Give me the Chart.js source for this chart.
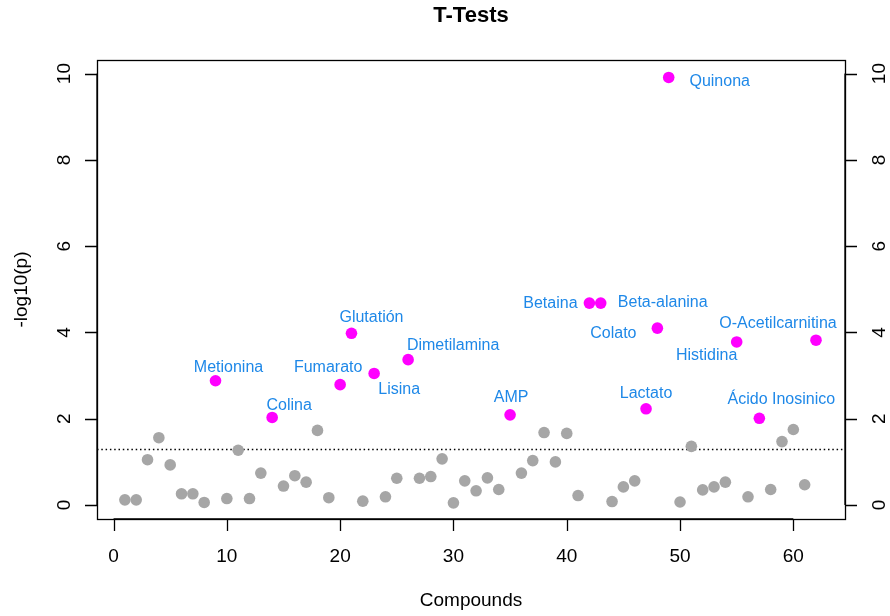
<!DOCTYPE html>
<html>
<head>
<meta charset="utf-8">
<title>T-Tests</title>
<script src="https://cdn.jsdelivr.net/npm/chart.js@4.4.1/dist/chart.umd.min.js"></script>
<style>
  html, body { margin: 0; padding: 0; background: #ffffff; }
  #wrap { width: 890px; height: 616px; }
</style>
</head>
<body>
<div id="wrap"><canvas id="chart" width="890" height="616"></canvas></div>
<script>
// Compound index along the x axis
const compoundIndex = [
  1, 2, 3, 4, 5, 6, 7, 8, 9, 10,
  11, 12, 13, 14, 15, 16, 17, 18, 19, 20,
  21, 22, 23, 24, 25, 26, 27, 28, 29, 30,
  31, 32, 33, 34, 35, 36, 37, 38, 39, 40,
  41, 42, 43, 44, 45, 46, 47, 48, 49, 50,
  51, 52, 53, 54, 55, 56, 57, 58, 59, 60,
  61, 62
];

// -log10(p) for each compound
const negLog10P = [
  0.12, 0.12, 1.05, 1.56, 0.93, 0.26, 0.26, 0.06, 2.88, 0.15,
  1.27, 0.15, 0.74, 2.03, 0.44, 0.68, 0.53, 1.73, 0.17, 2.79,
  3.98, 0.09, 3.05, 0.19, 0.62, 3.37, 0.62, 0.66, 1.07, 0.05,
  0.56, 0.33, 0.63, 0.36, 2.09, 0.74, 1.03, 1.68, 1.00, 1.66,
  0.22, 4.68, 4.68, 0.08, 0.42, 0.56, 2.23, 4.10, 9.91, 0.07,
  1.36, 0.35, 0.42, 0.53, 3.78, 0.19, 2.01, 0.36, 1.47, 1.75,
  0.47, 3.82
];

// Names of the significant compounds (empty = not significant)
const compoundNames = [
  "", "", "", "", "", "", "", "", "Metionina", "",
  "", "", "", "Colina", "", "", "", "", "", "Fumarato",
  "Glutatión", "", "Lisina", "", "", "Dimetilamina", "", "", "", "",
  "", "", "", "", "AMP", "", "", "", "", "",
  "", "Betaina", "Beta-alanina", "", "", "", "Lactato", "Colato", "Quinona", "",
  "", "", "", "", "Histidina", "", "Ácido Inosinico", "", "", "",
  "", "O-Acetilcarnitina"
];

// Tick values
const xTicks = [0, 10, 20, 30, 40, 50, 60];
const yTicks = [0, 2, 4, 6, 8, 10];

// Significance threshold p = 0.05
const pThreshold = 0.05;

// Label placement (pixel shift of the label centre from its point)
const labelShift = {
  "Metionina": [13, -13],
  "Colina": [17, -12],
  "Fumarato": [-12, -17],
  "Glutatión": [20, -16],
  "Lisina": [25, 16],
  "Dimetilamina": [45, -14],
  "AMP": [1, -17],
  "Betaina": [-39, 0],
  "Beta-alanina": [62, -1],
  "Lactato": [0, -15],
  "Colato": [-44, 5],
  "Quinona": [51, 4],
  "Histidina": [-30, 14],
  "Ácido Inosinico": [22, -19],
  "O-Acetilcarnitina": [-38, -17]
};

const FONT = "'Liberation Sans', Arial, Helvetica, sans-serif";
const GRAY = "#a6a6a6";
const MAGENTA = "#ff00ff";
const LABEL_BLUE = "#1e88e8";

const sigPoints = [];
const otherPoints = [];
compoundIndex.forEach((x, i) => {
  const pt = { x: x, y: negLog10P[i], name: compoundNames[i] };
  if (compoundNames[i]) sigPoints.push(pt); else otherPoints.push(pt);
});

// Box, axes, ticks, titles, threshold line and point labels
const rDecor = {
  id: "rDecor",
  beforeDatasetsDraw(chart) {
    const ctx = chart.ctx;
    const ys = chart.scales.y;
    const a = chart.chartArea;
    const yThr = Math.round(ys.getPixelForValue(-Math.log10(pThreshold))) + 0.5;
    ctx.save();
    ctx.strokeStyle = "#000";
    ctx.lineWidth = 1.3;
    ctx.setLineDash([1.5, 2.8]);
    ctx.beginPath();
    ctx.moveTo(a.left, yThr);
    ctx.lineTo(a.right, yThr);
    ctx.stroke();
    ctx.restore();
  },
  afterDraw(chart) {
    const ctx = chart.ctx;
    const xs = chart.scales.x, ys = chart.scales.y;
    const a = chart.chartArea;
    ctx.save();
    ctx.strokeStyle = "#000";
    ctx.fillStyle = "#000";
    ctx.lineWidth = 1.3;
    ctx.setLineDash([]);
    // plot box
    ctx.strokeRect(Math.round(a.left) + 0.5, Math.round(a.top) + 0.5,
                   Math.round(a.right - a.left), Math.round(a.bottom - a.top));

    const tickLen = 12;
    // bottom axis
    const x0 = xs.getPixelForValue(xTicks[0]);
    const x1 = xs.getPixelForValue(xTicks[xTicks.length - 1]);
    ctx.beginPath();
    ctx.moveTo(x0, a.bottom); ctx.lineTo(x1, a.bottom);
    xTicks.forEach(v => {
      const px = Math.round(xs.getPixelForValue(v)) + 0.5;
      ctx.moveTo(px, a.bottom); ctx.lineTo(px, a.bottom + tickLen);
    });
    ctx.stroke();
    ctx.font = "19px " + FONT;
    ctx.textAlign = "center";
    ctx.textBaseline = "middle";
    xTicks.forEach(v => {
      ctx.fillText(String(v), xs.getPixelForValue(v), a.bottom + 38);
    });

    // left and right axes
    const yb = ys.getPixelForValue(yTicks[0]);
    const yt = ys.getPixelForValue(yTicks[yTicks.length - 1]);
    ctx.beginPath();
    ctx.moveTo(a.left, yb); ctx.lineTo(a.left, yt);
    ctx.moveTo(a.right, yb); ctx.lineTo(a.right, yt);
    yTicks.forEach(v => {
      const py = Math.round(ys.getPixelForValue(v)) + 0.5;
      ctx.moveTo(a.left, py); ctx.lineTo(a.left - tickLen, py);
      ctx.moveTo(a.right, py); ctx.lineTo(a.right + tickLen, py);
    });
    ctx.stroke();
    yTicks.forEach(v => {
      const py = ys.getPixelForValue(v);
      [a.left - 32, a.right + 35].forEach(px => {
        ctx.save();
        ctx.translate(px, py);
        ctx.rotate(-Math.PI / 2);
        ctx.fillText(String(v), 0, 0);
        ctx.restore();
      });
    });

    // axis titles
    ctx.fillText("Compounds", (a.left + a.right) / 2, 601);
    ctx.save();
    ctx.translate(22, (a.top + a.bottom) / 2);
    ctx.rotate(-Math.PI / 2);
    ctx.fillText("-log10(p)", 0, 0);
    ctx.restore();

    // main title
    ctx.font = "bold 22px " + FONT;
    ctx.fillText("T-Tests", (a.left + a.right) / 2, 16);

    // labels of the significant compounds
    ctx.font = "16px " + FONT;
    ctx.fillStyle = LABEL_BLUE;
    sigPoints.forEach(p => {
      const s = labelShift[p.name] || [0, -16];
      ctx.fillText(p.name, xs.getPixelForValue(p.x) + s[0], ys.getPixelForValue(p.y) + s[1]);
    });
    ctx.restore();
  }
};

new Chart(document.getElementById("chart"), {
  type: "scatter",
  data: {
    datasets: [
      {
        label: "not significant",
        data: otherPoints,
        backgroundColor: GRAY,
        borderWidth: 0,
        pointRadius: 5.8,
        pointHoverRadius: 5.8
      },
      {
        label: "significant",
        data: sigPoints,
        backgroundColor: MAGENTA,
        borderWidth: 0,
        pointRadius: 5.8,
        pointHoverRadius: 5.8
      }
    ]
  },
  options: {
    responsive: false,
    animation: false,
    devicePixelRatio: 1,
    layout: { padding: { left: 97, top: 60, right: 45, bottom: 97 } },
    plugins: {
      legend: { display: false },
      tooltip: { enabled: false },
      title: { display: false }
    },
    scales: {
      x: { type: "linear", min: -1.46, max: 64.56, display: false },
      y: { type: "linear", min: -0.324, max: 10.315, display: false }
    }
  },
  plugins: [rDecor]
});
</script>
</body>
</html>
